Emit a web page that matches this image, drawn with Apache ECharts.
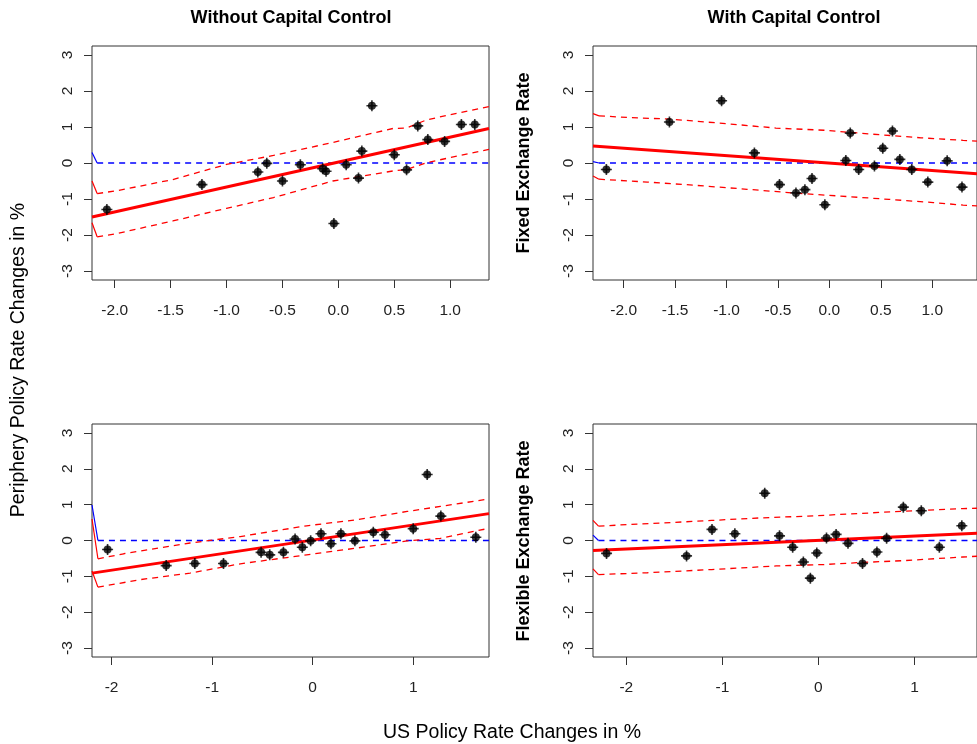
<!DOCTYPE html>
<html>
<head>
<meta charset="utf-8">
<script src="https://cdn.jsdelivr.net/npm/echarts@6/dist/echarts.min.js"></script>
<style>
html, body { margin: 0; padding: 0; background: #fff; }
#main { width: 977px; height: 744px; }
</style>
</head>
<body>
<div id="main"></div>
<script>
// 左上：Without Capital Control
var p1X = [-2.07, -1.22, -0.72, -0.64, -0.50, -0.34, -0.14, -0.11, -0.04, 0.07, 0.18, 0.21, 0.30, 0.50, 0.61, 0.71, 0.80, 0.95, 1.10, 1.22];
var p1Y = [-1.29, -0.60, -0.25, -0.01, -0.50, -0.05, -0.16, -0.23, -1.68, -0.05, -0.42, 0.33, 1.59, 0.23, -0.19, 1.03, 0.65, 0.60, 1.07, 1.07];
var p1Fit = [[-2.203, -1.50], [1.347, 0.96]];
var p1Upper = [[-2.157, -0.85], [-1.98, -0.77], [-1.48, -0.46], [-1.00, -0.04], [-0.58, 0.21], [-0.05, 0.57], [0.49, 0.96], [0.61, 0.97], [0.79, 1.20], [1.347, 1.57]];
var p1Lower = [[-2.157, -2.05], [-1.98, -1.96], [-1.48, -1.61], [-1.00, -1.26], [-0.58, -0.96], [-0.05, -0.50], [0.49, -0.22], [0.61, -0.18], [0.79, 0.01], [1.347, 0.38]];
var p1Zero = [[-2.157, 0], [1.347, 0]];
var p1EdgeZero = [[-2.203, 0.29], [-2.157, 0]];
var p1EdgeUp = [[-2.203, -0.50], [-2.157, -0.85]];
var p1EdgeLo = [[-2.203, -1.66], [-2.157, -2.05]];

// 右上：With Capital Control, Fixed Exchange Rate
var p2X = [-2.168, -1.555, -1.048, -0.729, -0.485, -0.325, -0.238, -0.169, -0.044, 0.160, 0.203, 0.285, 0.438, 0.519, 0.613, 0.685, 0.801, 0.957, 1.145, 1.289];
var p2Y = [-0.18, 1.14, 1.73, 0.28, -0.60, -0.83, -0.74, -0.43, -1.16, 0.07, 0.83, -0.18, -0.08, 0.41, 0.89, 0.10, -0.18, -0.53, 0.06, -0.67];
var p2Fit = [[-2.298, 0.47], [1.435, -0.30]];
var p2Upper = [[-2.24, 1.31], [-1.93, 1.26], [-1.55, 1.22], [-0.99, 1.09], [-0.52, 0.97], [-0.05, 0.91], [0.42, 0.80], [0.89, 0.70], [1.30, 0.63], [1.435, 0.61]];
var p2Lower = [[-2.24, -0.45], [-1.77, -0.53], [-1.30, -0.62], [-0.80, -0.73], [-0.36, -0.83], [0.11, -0.92], [0.58, -1.01], [1.01, -1.10], [1.30, -1.17], [1.435, -1.19]];
var p2Zero = [[-2.24, 0], [1.435, 0]];
var p2EdgeZero = [[-2.298, 0.04], [-2.24, 0]];
var p2EdgeUp = [[-2.298, 1.37], [-2.24, 1.31]];
var p2EdgeLo = [[-2.298, -0.36], [-2.24, -0.45]];

// 左下
var p3X = [-2.04, -1.457, -1.172, -0.887, -0.513, -0.427, -0.291, -0.175, -0.103, -0.02, 0.083, 0.182, 0.281, 0.42, 0.603, 0.719, 1.0, 1.139, 1.275, 1.623];
var p3Y = [-0.25, -0.70, -0.64, -0.64, -0.33, -0.40, -0.33, 0.04, -0.19, -0.01, 0.19, -0.09, 0.19, -0.01, 0.23, 0.16, 0.33, 1.84, 0.68, 0.09];
var p3Fit = [[-2.195, -0.91], [1.754, 0.75]];
var p3Upper = [[-2.136, -0.51], [-1.88, -0.37], [-1.22, -0.07], [-0.72, 0.11], [-0.06, 0.41], [0.44, 0.58], [0.94, 0.81], [1.27, 0.95], [1.754, 1.16]];
var p3Lower = [[-2.136, -1.30], [-1.71, -1.09], [-1.22, -0.91], [-0.72, -0.65], [-0.06, -0.40], [0.44, -0.21], [0.94, -0.01], [1.27, 0.06], [1.754, 0.34]];
var p3Zero = [[-2.136, 0], [1.754, 0]];
var p3EdgeZero = [[-2.195, 0.99], [-2.136, 0]];
var p3EdgeUp = [[-2.195, 0.60], [-2.136, -0.51]];
var p3EdgeLo = [[-2.195, -0.85], [-2.136, -1.30]];

// 右下：Flexible Exchange Rate
var p4X = [-2.206, -1.373, -1.108, -0.870, -0.559, -0.405, -0.268, -0.157, -0.084, -0.017, 0.084, 0.184, 0.308, 0.459, 0.609, 0.710, 0.884, 1.071, 1.259, 1.493];
var p4Y = [-0.36, -0.43, 0.31, 0.19, 1.32, 0.13, -0.19, -0.60, -1.05, -0.35, 0.07, 0.17, -0.08, -0.64, -0.32, 0.06, 0.93, 0.83, -0.19, 0.41];
var p4Fit = [[-2.347, -0.28], [1.651, 0.20]];
var p4Upper = [[-2.29, 0.40], [-1.95, 0.45], [-1.61, 0.49], [-1.11, 0.56], [-0.61, 0.63], [-0.11, 0.68], [0.40, 0.75], [0.90, 0.82], [1.503, 0.89], [1.651, 0.90]];
var p4Lower = [[-2.29, -0.95], [-1.78, -0.90], [-1.11, -0.81], [-0.44, -0.71], [0.06, -0.67], [0.40, -0.62], [0.90, -0.56], [1.503, -0.46], [1.651, -0.44]];
var p4Zero = [[-2.29, 0], [1.651, 0]];
var p4EdgeZero = [[-2.347, 0.15], [-2.29, 0]];
var p4EdgeUp = [[-2.347, 0.56], [-2.29, 0.40]];
var p4EdgeLo = [[-2.347, -0.79], [-2.29, -0.95]];

// 刻度
var xTicksHalf = [-2, -1.5, -1, -0.5, 0, 0.5, 1];
var xTicksInt = [-2, -1, 0, 1];
var yTicks = [-3, -2, -1, 0, 1, 2, 3];

var FONT = '"Liberation Sans", Arial, sans-serif';

var grids = [
    {left: 92, top: 46, width: 397, height: 234},
    {left: 593, top: 46, width: 398, height: 234},
    {left: 92, top: 424, width: 397, height: 233},
    {left: 593, top: 424, width: 398, height: 233}
];
var xRanges = [[-2.203, 1.347], [-2.298, 1.435], [-2.195, 1.754], [-2.347, 1.651]];
var yRanges = [[-3.25, 3.25], [-3.25, 3.25], [-3.25, 3.25], [-3.25, 3.25]];

function zip(xs, ys) {
    var out = [];
    for (var i = 0; i < xs.length; i++) out.push([xs[i], ys[i]]);
    return out;
}

function lineSeries(idx, data, color, width, dashed) {
    return {
        type: 'line', xAxisIndex: idx, yAxisIndex: idx,
        data: data, showSymbol: false, symbol: 'none', silent: true,
        lineStyle: {color: color, width: width, type: dashed ? [6, 5] : 'solid'},
        animation: false, z: 2
    };
}

function panelSeries(idx, xs, ys, fit, upper, lower, zero, eZero, eUp, eLo) {
    var pts = zip(xs, ys);
    return [
        lineSeries(idx, eZero, '#0000ff', 1.2, false),
        lineSeries(idx, eUp, '#ff0000', 1.2, false),
        lineSeries(idx, eLo, '#ff0000', 1.2, false),
        lineSeries(idx, zero, '#0000ff', 1.3, true),
        lineSeries(idx, upper, '#ff0000', 1.3, true),
        lineSeries(idx, lower, '#ff0000', 1.3, true),
        lineSeries(idx, fit, '#ff0000', 3, false),
        { // 实心点
            type: 'scatter', xAxisIndex: idx, yAxisIndex: idx, data: pts,
            symbol: 'circle', symbolSize: 8, itemStyle: {color: '#000'},
            animation: false, silent: true, z: 3
        },
        { // 十字
            type: 'scatter', xAxisIndex: idx, yAxisIndex: idx, data: pts,
            symbol: 'path://M0,5L10,5M5,0L5,10', symbolSize: 11,
            itemStyle: {color: 'rgba(0,0,0,0)', borderColor: '#000', borderWidth: 1.6},
            animation: false, silent: true, z: 3
        }
    ];
}

var xAxes = [], yAxes = [];
for (var i = 0; i < 4; i++) {
    var ticks = i < 2 ? xTicksHalf : xTicksInt;
    xAxes.push({
        gridIndex: i, type: 'value', min: xRanges[i][0], max: xRanges[i][1],
        axisLine: {show: false, onZero: false},
        splitLine: {show: false},
        axisTick: {show: true, length: 8, customValues: ticks, lineStyle: {color: '#333', width: 1}},
        axisLabel: {
            customValues: ticks, margin: 23, fontSize: 15.5, color: '#222', fontFamily: FONT,
            formatter: i < 2 ? function (v) { return v.toFixed(1); } : function (v) { return String(v); }
        }
    });
    yAxes.push({
        gridIndex: i, type: 'value', min: yRanges[i][0], max: yRanges[i][1],
        axisLine: {show: false, onZero: false},
        splitLine: {show: false},
        axisTick: {show: true, length: 8, customValues: yTicks, lineStyle: {color: '#333', width: 1}},
        axisLabel: {customValues: yTicks, rotate: 90, margin: 16, fontSize: 15.5, color: '#222', fontFamily: FONT}
    });
}

var series = []
    .concat(panelSeries(0, p1X, p1Y, p1Fit, p1Upper, p1Lower, p1Zero, p1EdgeZero, p1EdgeUp, p1EdgeLo))
    .concat(panelSeries(1, p2X, p2Y, p2Fit, p2Upper, p2Lower, p2Zero, p2EdgeZero, p2EdgeUp, p2EdgeLo))
    .concat(panelSeries(2, p3X, p3Y, p3Fit, p3Upper, p3Lower, p3Zero, p3EdgeZero, p3EdgeUp, p3EdgeLo))
    .concat(panelSeries(3, p4X, p4Y, p4Fit, p4Upper, p4Lower, p4Zero, p4EdgeZero, p4EdgeUp, p4EdgeLo));

function label(text, x, y, size, bold, rot) {
    return {
        type: 'text', x: x, y: y, rotation: rot ? Math.PI / 2 : 0, silent: true,
        style: {
            text: text, x: 0, y: 0, align: 'center', verticalAlign: 'middle',
            font: (bold ? 'bold ' : '') + size + 'px ' + FONT, fill: '#000'
        }
    };
}

var chart = echarts.init(document.getElementById('main'));
chart.setOption({
    backgroundColor: '#fff',
    animation: false,
    grid: grids.map(function (g) {
        return Object.assign({show: true, borderColor: '#333', borderWidth: 1, backgroundColor: 'transparent'}, g);
    }),
    xAxis: xAxes,
    yAxis: yAxes,
    series: series,
    graphic: [
        label('Without Capital Control', 291, 18, 18, true, false),
        label('With Capital Control', 794, 18, 18, true, false),
        label('Periphery Policy Rate Changes in %', 19, 360, 19.5, false, true),
        label('US Policy Rate Changes in %', 512, 733, 19.5, false, false),
        label('Fixed Exchange Rate', 524, 163, 18, true, true),
        label('Flexible Exchange Rate', 524, 541, 18, true, true)
    ]
});
</script>
</body>
</html>
